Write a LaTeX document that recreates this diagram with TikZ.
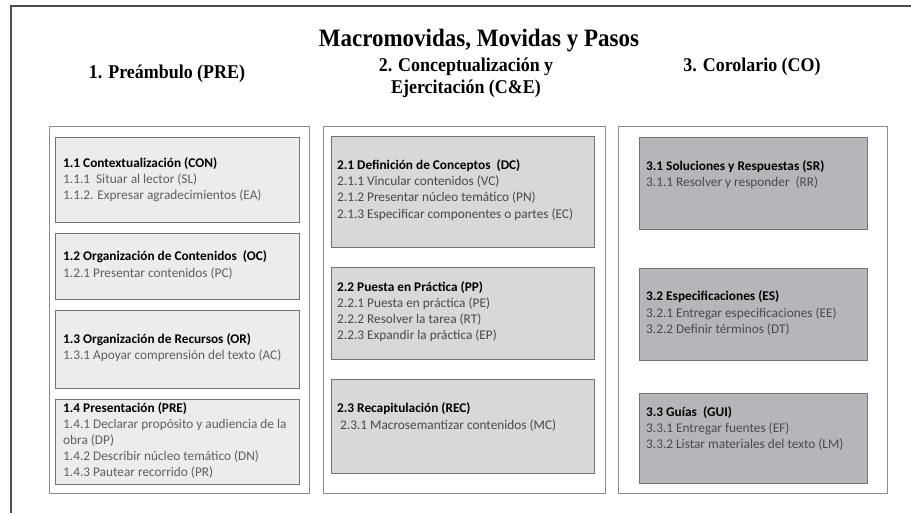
\documentclass[tikz,border=0pt]{standalone}
\usepackage{fontspec}
\setmainfont{Liberation Serif}
\newfontfamily\boxfont{Carlito}
\usetikzlibrary{shadows}
\definecolor{fillA}{RGB}{236,236,236}
\definecolor{fillB}{RGB}{216,216,218}
\definecolor{fillC}{RGB}{182,182,186}
\definecolor{itemA}{RGB}{95,95,95}
\definecolor{itemB}{RGB}{72,72,72}
\definecolor{itemC}{RGB}{72,72,78}
\begin{document}
\begin{tikzpicture}[x=1pt,y=-1pt,
  outerbox/.style={draw=black!45, line width=1pt, fill=white, anchor=north west, inner sep=0},
  innerbox/.style={draw=black!55, line width=1pt, anchor=north west, inner sep=0,
    drop shadow={shadow xshift=0.8pt, shadow yshift=-0.8pt, fill=black!45, opacity=0.6}},
  txt/.style={font=\boxfont\fontsize{13.3}{16.2}\selectfont, align=left, inner sep=0, anchor=west},
  hdr/.style={font=\fontsize{19.5}{22}\selectfont\bfseries, inner sep=0}]
\useasboundingbox (0,0) rectangle (911,513);
\fill[white] (0,0) rectangle (911,513);
\draw[line width=1.5pt, black!70] (911,6) -- (11,6) -- (11,513);

\node[font=\fontsize{25}{29}\selectfont\bfseries, inner sep=0] (title) at (479,41) {\scalebox{0.92}[1]{Macromovidas, Movidas y Pasos}};
\node[hdr] (h1) at (167,74) {\scalebox{0.92}[1]{1. Preámbulo (PRE)}};
\node[hdr] (h2) at (466,78) {\scalebox{0.92}[1]{\begin{tabular}{@{}c@{}}2. Conceptualización y\\Ejercitación (C\&E)\end{tabular}}};
\node[hdr] (h3) at (752,67) {\scalebox{0.92}[1]{3. Corolario (CO)}};

% outer columns
\node[outerbox, minimum width=260pt, minimum height=367pt] (c1) at (49,126) {};
\node[outerbox, minimum width=282pt, minimum height=367pt] (c2) at (323,126) {};
\node[outerbox, minimum width=269pt, minimum height=367pt] (c3) at (618,126) {};

% column 1
\node[innerbox, fill=fillA, minimum width=244pt, minimum height=85pt] (b11) at (55,137) {};
\node[innerbox, fill=fillA, minimum width=244pt, minimum height=66pt] (b12) at (55,233) {};
\node[innerbox, fill=fillA, minimum width=244pt, minimum height=78pt] (b13) at (55,310) {};
\node[innerbox, fill=fillA, minimum width=244pt, minimum height=85pt] (b14) at (55,399) {};
% column 2
\node[innerbox, fill=fillB, minimum width=263pt, minimum height=111pt] (b21) at (331,136) {};
\node[innerbox, fill=fillB, minimum width=263pt, minimum height=92pt] (b22) at (331,267) {};
\node[innerbox, fill=fillB, minimum width=263pt, minimum height=94pt] (b23) at (331,379) {};
% column 3
\node[innerbox, fill=fillC, minimum width=228pt, minimum height=92pt] (b31) at (639,137) {};
\node[innerbox, fill=fillC, minimum width=228pt, minimum height=92pt] (b32) at (639,268) {};
\node[innerbox, fill=fillC, minimum width=228pt, minimum height=90pt] (b33) at (639,393) {};

% texts column 1
\node[txt, text=itemA] (t11) at (63,180) {\textcolor{black}{\bfseries 1.1 Contextualización (CON)}\\1.1.1\ \ Situar al lector (SL)\\1.1.2. Expresar agradecimientos (EA)};
\node[txt, text=itemA] (t12) at (63,265) {\textcolor{black}{\bfseries 1.2 Organización de Contenidos\ \ (OC)}\\1.2.1 Presentar contenidos (PC)};
\node[txt, text=itemA] (t13) at (63,347.5) {\textcolor{black}{\bfseries 1.3 Organización de Recursos (OR)}\\1.3.1 Apoyar comprensión del texto (AC)};
\node[txt, text=itemA] (t14) at (63,440.5) {\textcolor{black}{\bfseries 1.4 Presentación (PRE)}\\1.4.1 Declarar propósito y audiencia de la\\obra (DP)\\1.4.2 Describir núcleo temático (DN)\\1.4.3 Pautear recorrido (PR)};
% texts column 2
\node[txt, text=itemB] (t21) at (337,190) {\textcolor{black}{\bfseries 2.1 Definición de Conceptos\ \ (DC)}\\2.1.1 Vincular contenidos (VC)\\2.1.2 Presentar núcleo temático (PN)\\2.1.3 Especificar componentes o partes (EC)};
\node[txt, text=itemB] (t22) at (337,311.5) {\textcolor{black}{\bfseries 2.2 Puesta en Práctica (PP)}\\2.2.1 Puesta en práctica (PE)\\2.2.2 Resolver la tarea (RT)\\2.2.3 Expandir la práctica (EP)};
\node[txt, text=itemB] (t23) at (337,417) {\textcolor{black}{\bfseries 2.3 Recapitulación (REC)}\\\ 2.3.1 Macrosemantizar contenidos (MC)};
% texts column 3
\node[txt, text=itemC] (t31) at (646,174.5) {\textcolor{black}{\bfseries 3.1 Soluciones y Respuestas (SR)}\\3.1.1 Resolver y responder\ \ (RR)};
\node[txt, text=itemC] (t32) at (646,313) {\textcolor{black}{\bfseries 3.2 Especificaciones (ES)}\\3.2.1 Entregar especificaciones (EE)\\3.2.2 Definir términos (DT)};
\node[txt, text=itemC] (t33) at (646,428.5) {\textcolor{black}{\bfseries 3.3 Guías\ \ (GUI)}\\3.3.1 Entregar fuentes (EF)\\3.3.2 Listar materiales del texto (LM)};
\end{tikzpicture}
\end{document}
